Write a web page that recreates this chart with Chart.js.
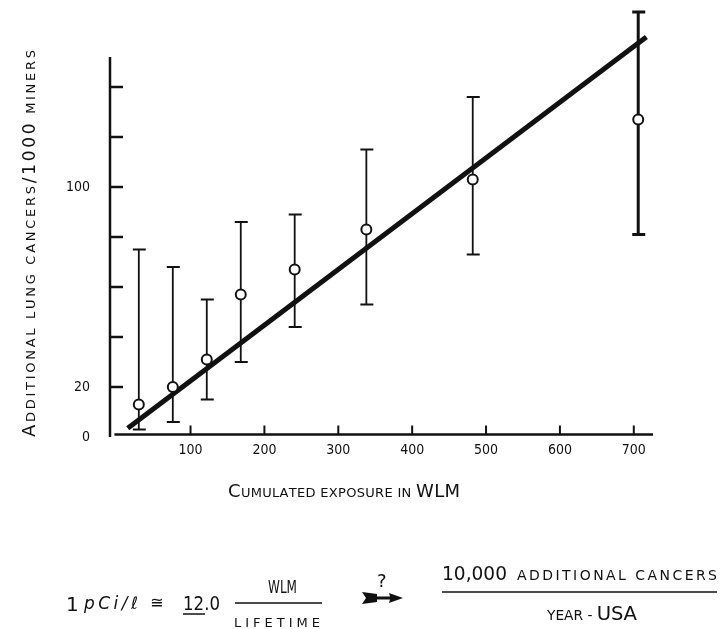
<!doctype html>
<html>
<head>
<meta charset="utf-8">
<title>Additional lung cancers vs cumulated exposure</title>
<script src="https://cdn.jsdelivr.net/npm/chart.js@4.4.0/dist/chart.umd.min.js"></script>
<style>
  body { margin: 0; background: #fff; }
  #holder { width: 722px; height: 629px; }
</style>
</head>
<body>
<div id="holder"><canvas id="chart-area" width="722" height="629"></canvas></div>
<script>
// values
var exposure = [30, 76, 122, 168, 241, 338, 482, 706];
var cancers  = [13, 20, 31, 57, 67, 83, 103, 127];
var errLow   = [3, 6, 15, 30, 44, 53, 73, 81];
var errHigh  = [75, 68, 55, 86, 89, 115, 136, 170];
var fitX = [15, 717];
var fitY = [3.5, 160];
var xTicks = [100, 200, 300, 400, 500, 600, 700];
var yTicks = [0, 20, 40, 60, 80, 100, 120, 140];
var yLabels = [0, 20, 100];

var FONT = '"DejaVu Sans", "Liberation Sans", sans-serif';
var TICKFONT = '"DejaVu Sans Condensed", "Liberation Sans Narrow", "DejaVu Sans", sans-serif';
var INK = '#111';

// draw text char by char, spread (or squeezed) to a given width
function drawRuns(ctx, runs, x, y, width) {
    var chars = [];
    runs.forEach(function(r) {
        ctx.font = (r[2] || '') + ' ' + r[1] + 'px ' + FONT;
        var f = ctx.font;
        for (var i = 0; i < r[0].length; i++) {
            chars.push({ c: r[0][i], font: f, w: ctx.measureText(r[0][i]).width });
        }
    });
    var natural = 0;
    chars.forEach(function(c) { natural += c.w; });
    var gap = 0, sx = 1;
    if (width && chars.length > 1) {
        if (natural < width) gap = (width - natural) / (chars.length - 1);
        else sx = width / natural;
    }
    ctx.save();
    ctx.translate(x, y);
    ctx.scale(sx, 1);
    ctx.textAlign = 'left';
    ctx.textBaseline = 'alphabetic';
    ctx.fillStyle = INK;
    var cx = 0;
    chars.forEach(function(c) {
        ctx.font = c.font;
        ctx.fillText(c.c, cx, 0);
        cx += c.w + gap;
    });
    ctx.restore();
}

function hline(ctx, x1, x2, y, w) {
    ctx.save();
    ctx.strokeStyle = INK;
    ctx.lineWidth = w;
    ctx.beginPath();
    ctx.moveTo(x1, y);
    ctx.lineTo(x2, y);
    ctx.stroke();
    ctx.restore();
}

var axesPlugin = {
    id: 'axesPlugin',
    beforeDatasetsDraw: function(chart) {
        var ctx = chart.ctx, xs = chart.scales.x, ys = chart.scales.y;
        ctx.save();
        ctx.strokeStyle = INK;
        ctx.lineCap = 'butt';
        // axes
        ctx.lineWidth = 2.5;
        var axisY = ys.getPixelForValue(1);
        ctx.beginPath();
        ctx.moveTo(xs.left, ys.getPixelForValue(0));
        ctx.lineTo(xs.left, ys.getPixelForValue(152));
        ctx.stroke();
        ctx.beginPath();
        ctx.moveTo(xs.getPixelForValue(-3), axisY);
        ctx.lineTo(xs.right, axisY);
        ctx.stroke();
        // inside ticks
        yTicks.forEach(function(v) {
            if (v === 0) return;
            var py = ys.getPixelForValue(v);
            ctx.beginPath();
            ctx.moveTo(xs.left, py);
            ctx.lineTo(xs.left + 13, py);
            ctx.stroke();
        });
        ctx.lineWidth = 2;
        xTicks.forEach(function(v) {
            var px = xs.getPixelForValue(v);
            ctx.beginPath();
            ctx.moveTo(px, axisY);
            ctx.lineTo(px, axisY - 9);
            ctx.stroke();
        });
        // error bars
        exposure.forEach(function(xv, i) {
            var px = xs.getPixelForValue(xv);
            var lo = ys.getPixelForValue(errLow[i]);
            var hi = ys.getPixelForValue(errHigh[i]);
            ctx.lineWidth = i === exposure.length - 1 ? 3 : 1.8;
            ctx.beginPath();
            ctx.moveTo(px, lo);
            ctx.lineTo(px, hi);
            ctx.moveTo(px - 6, lo);
            ctx.lineTo(px + 7, lo);
            ctx.moveTo(px - 6, hi);
            ctx.lineTo(px + 7, hi);
            ctx.stroke();
        });
        ctx.restore();
    },
    afterDraw: function(chart) {
        var ctx = chart.ctx;
        // y axis title
        ctx.save();
        ctx.translate(35, 437);
        ctx.rotate(-Math.PI / 2);
        drawRuns(ctx, [['A', 18], ['DDITIONAL LUNG CANCERS', 13], ['/1000', 17], [' MINERS', 13]], 0, 0, 387);
        ctx.restore();
        // x axis title
        drawRuns(ctx, [['C', 18], ['UMULATED EXPOSURE IN ', 13], ['WLM', 18]], 228, 497, 232);

        // formula below the chart
        drawRuns(ctx, [['1', 20]], 66, 611);
        drawRuns(ctx, [['pCi/\u2113', 17, 'italic']], 84, 609, 54);
        drawRuns(ctx, [['\u2245', 16]], 150, 608);
        drawRuns(ctx, [['12.0', 20]], 183, 610, 37);
        hline(ctx, 183, 205, 614, 1.5);
        drawRuns(ctx, [['WLM', 17]], 268, 593, 29);
        hline(ctx, 235, 322, 603, 1.5);
        drawRuns(ctx, [['LIFETIME', 13]], 234, 627, 86);
        drawRuns(ctx, [['?', 18]], 377, 587);
        // arrow
        ctx.save();
        ctx.fillStyle = INK;
        ctx.beginPath();
        ctx.moveTo(362, 592); ctx.lineTo(377, 594); ctx.lineTo(377, 596.5);
        ctx.lineTo(390, 596.5); ctx.lineTo(389, 593); ctx.lineTo(403, 598);
        ctx.lineTo(389, 603); ctx.lineTo(390, 599.5); ctx.lineTo(377, 599.5);
        ctx.lineTo(377, 602); ctx.lineTo(362, 604); ctx.lineTo(366, 598);
        ctx.closePath();
        ctx.fill();
        ctx.restore();
        drawRuns(ctx, [['10,000', 20]], 442, 580, 65);
        drawRuns(ctx, [['ADDITIONAL CANCERS', 14]], 517, 580, 200);
        hline(ctx, 442, 717, 592, 1.5);
        drawRuns(ctx, [['YEAR - ', 14], ['USA', 20]], 547, 620, 90);
    }
};

var config = {
    type: 'scatter',
    data: {
        datasets: [{
            label: 'Observed',
            data: exposure.map(function(x, i) { return { x: x, y: cancers[i] }; }),
            pointRadius: 5,
            pointBorderWidth: 2,
            pointBackgroundColor: '#fff',
            pointBorderColor: INK,
            order: 0
        }, {
            type: 'line',
            label: 'Fit',
            data: fitX.map(function(x, i) { return { x: x, y: fitY[i] }; }),
            borderColor: INK,
            borderWidth: 5,
            pointRadius: 0,
            fill: false,
            order: 1
        }]
    },
    options: {
        responsive: false,
        animation: false,
        layout: { padding: { left: 0, right: 69, top: 5, bottom: 152 } },
        plugins: { legend: { display: false }, tooltip: { enabled: false } },
        scales: {
            x: {
                type: 'linear',
                min: -9,
                max: 726,
                afterBuildTicks: function(s) { s.ticks = xTicks.map(function(v) { return { value: v }; }); },
                afterFit: function(s) { s.height = 40; s.paddingLeft = 0; s.paddingRight = 0; },
                grid: { display: false, drawTicks: false },
                border: { display: false },
                ticks: { color: INK, font: { family: TICKFONT, size: 14 }, padding: 5, maxRotation: 0, autoSkip: false }
            },
            y: {
                min: 0,
                max: 172,
                afterBuildTicks: function(s) { s.ticks = yTicks.map(function(v) { return { value: v }; }); },
                afterFit: function(s) { s.width = 110; s.paddingTop = 0; s.paddingBottom = 0; },
                grid: { display: false, drawTicks: false },
                border: { display: false },
                ticks: {
                    color: INK,
                    font: { family: TICKFONT, size: 14 },
                    padding: 20,
                    autoSkip: false,
                    callback: function(v) { return yLabels.indexOf(v) >= 0 ? String(v) : ''; }
                }
            }
        }
    },
    plugins: [axesPlugin]
};

window.onload = function() {
    var ctx = document.getElementById('chart-area').getContext('2d');
    window.myChart = new Chart(ctx, config);
};
</script>
</body>
</html>
